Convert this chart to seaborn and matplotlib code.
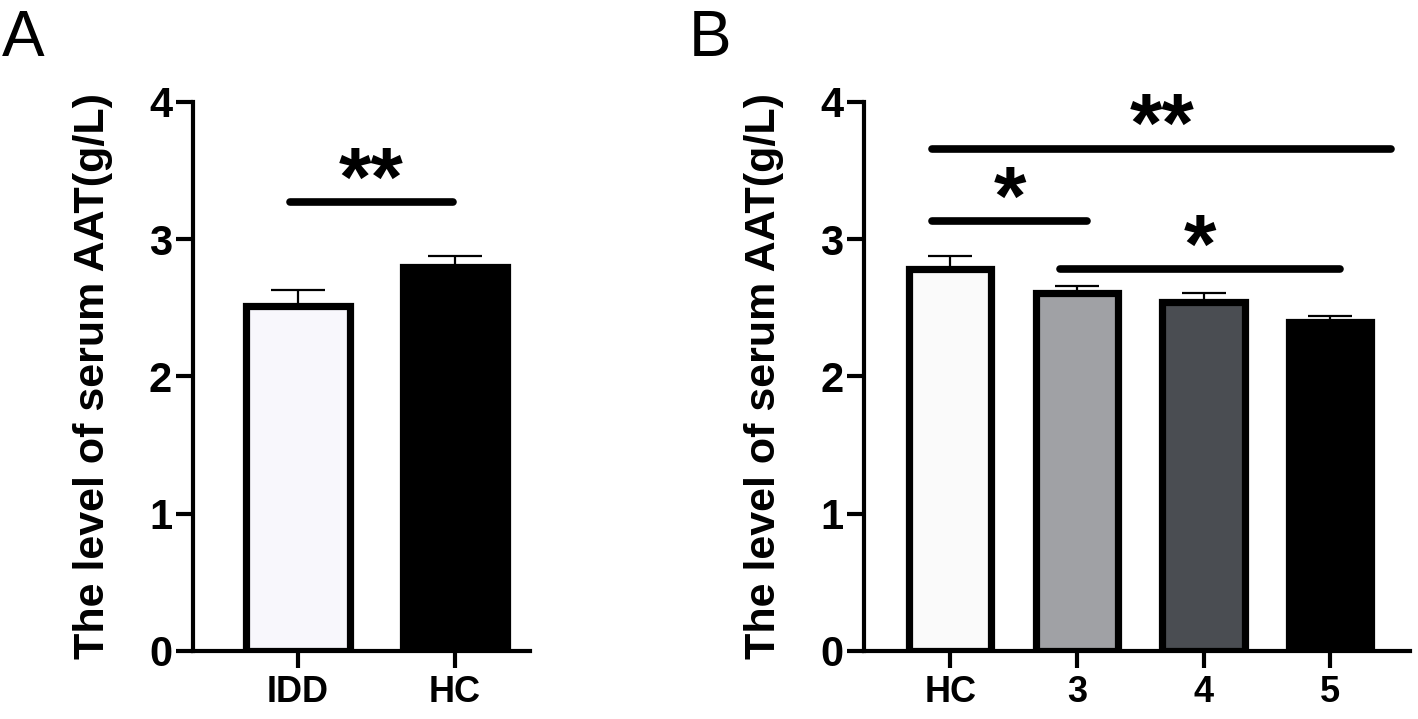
import matplotlib
matplotlib.use("Agg")
import matplotlib.pyplot as plt
import pandas as pd
import seaborn as sns

sns.set_theme(style="ticks", rc={
    "axes.edgecolor": "black", "axes.labelcolor": "black", "text.color": "black",
    "xtick.color": "black", "ytick.color": "black",
})
plt.rcParams["font.family"] = ["Liberation Sans", "DejaVu Sans"]

# panel A
groups_a = ["IDD", "HC"]
means_a = [2.51, 2.80]
sem_a = [0.12, 0.08]
colors_a = ["#F8F7FC", "#000000"]

# panel B
groups_b = ["HC", "3", "4", "5"]
means_b = [2.78, 2.61, 2.54, 2.40]
sem_b = [0.10, 0.05, 0.07, 0.04]
colors_b = ["#FAFAFA", "#A0A1A5", "#4A4D52", "#000000"]

# significance lines: (start, end in category units, height, label)
sig_a = [(-0.05, 0.985, 3.27, "**")]
sig_b = [(-0.14, 3.48, 3.66, "**"), (-0.14, 1.08, 3.13, "*"), (0.87, 3.08, 2.78, "*")]

y_label = "The level of serum AAT(g/L)"


def draw_panel(ax, groups, means, sems, colors, sigs, width, xlim, letter, letter_x, capsize):
    df = pd.DataFrame({"Group": groups, "Level": means})
    sns.barplot(data=df, x="Group", y="Level", hue="Group", palette=dict(zip(groups, colors)),
                legend=False, width=width, edgecolor="black", linewidth=5.2, ax=ax,
                saturation=1)
    for p in ax.patches:
        p.set_zorder(3)
    ax.errorbar(range(len(groups)), means, yerr=[[0] * len(sems), sems],
                fmt="none", ecolor="black", elinewidth=1.6, capsize=capsize,
                capthick=1.6, zorder=2)
    for x0, x1, h, label in sigs:
        ax.plot([x0, x1], [h, h], color="black", lw=5.5, solid_capstyle="round", zorder=4)
        ax.text((x0 + x1) / 2, h - 0.025, label, ha="center", va="baseline",
                fontsize=60, fontweight="bold")
    ax.set_ylim(0, 4)
    ax.set_xlim(*xlim)
    ax.set_yticks([0, 1, 2, 3, 4])
    ax.set_xlabel("")
    ax.set_ylabel(y_label, fontsize=31, fontweight="bold", labelpad=26)
    for side in ["top", "right"]:
        ax.spines[side].set_visible(False)
    for side in ["left", "bottom"]:
        ax.spines[side].set_linewidth(3)
    ax.tick_params(axis="both", width=3, length=12, labelsize=30, pad=3)
    ax.tick_params(axis="x", labelsize=26, pad=5)
    for lbl in ax.get_xticklabels() + ax.get_yticklabels():
        lbl.set_fontweight("bold")
    ax.text(letter_x, 1.115, letter, transform=ax.transAxes,
            fontsize=46, ha="left", va="center")


fig = plt.figure(figsize=(14.18, 7.19), dpi=100)
ax_a = fig.add_axes([0.136, 0.0946, 0.238, 0.7636])
ax_b = fig.add_axes([0.6093, 0.0946, 0.3851, 0.7636])

draw_panel(ax_a, groups_a, means_a, sem_a, colors_a, sig_a, 0.66, (-0.67, 1.48), "A", -0.565, 19.5)
draw_panel(ax_b, groups_b, means_b, sem_b, colors_b, sig_b, 0.65, (-0.68, 3.63), "B", -0.32, 15.5)

fig.savefig("out.png", dpi=100)
